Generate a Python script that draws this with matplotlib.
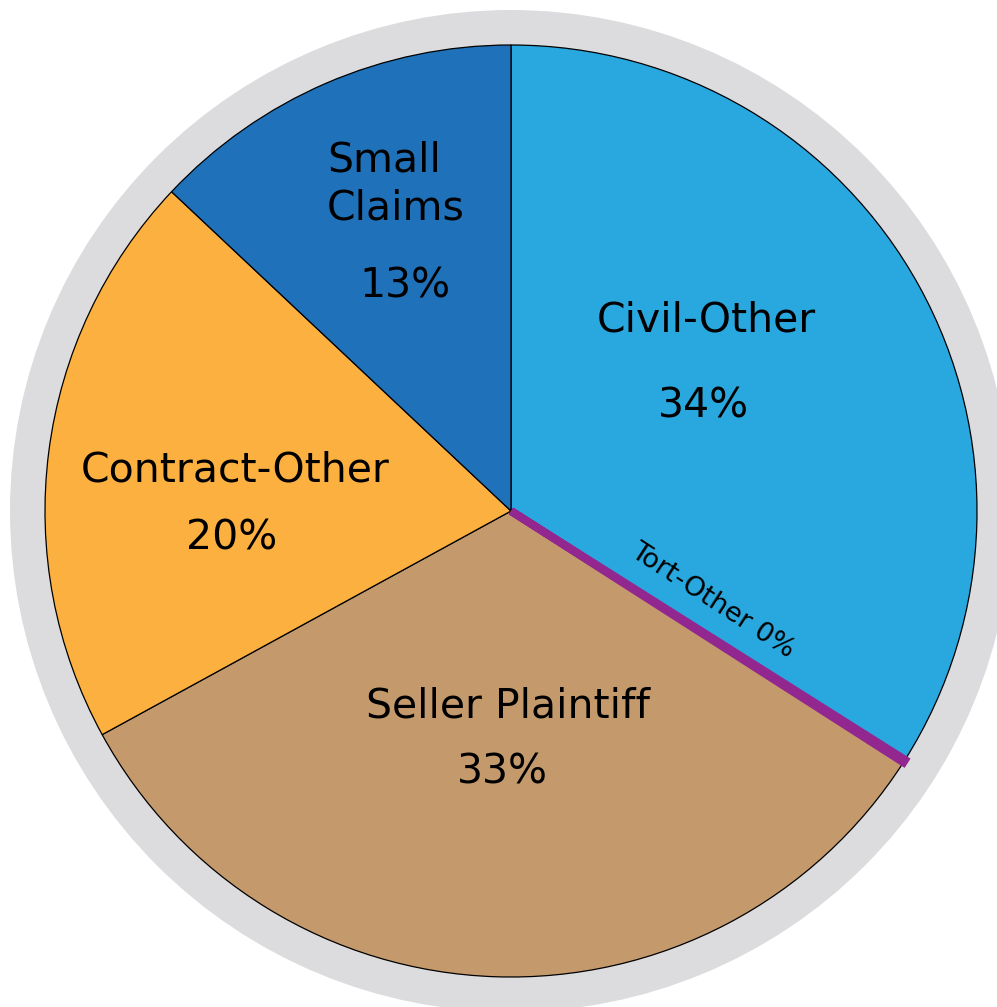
import matplotlib
matplotlib.use("Agg")
import matplotlib.pyplot as plt
from matplotlib.patches import Circle

categories = ["Civil-Other", "Tort-Other", "Seller Plaintiff", "Contract-Other", "Small Claims"]
values = [34, 0.1, 33, 20, 13]
pct_labels = ["34%", "0%", "33%", "20%", "13%"]
colors = ["#29A8E0", "#92278F", "#C49A6C", "#FBB040", "#1F72BA"]

W, H = 997, 1007
fig = plt.figure(figsize=(W / 100, H / 100), dpi=100)
ax = fig.add_axes([0, 0, 1, 1])

cx, cy = 511, H - 511
ax.add_patch(Circle((cx, cy), 501, facecolor="#DCDCDE", edgecolor="none", zorder=0))

wedges, _ = ax.pie(values, colors=colors, startangle=90, counterclock=False,
                   center=(cx, cy), radius=466, frame=True,
                   wedgeprops=dict(edgecolor="black", linewidth=0.9))
wedges[1].set_edgecolor(colors[1])
wedges[1].set_linewidth(5.8)
wedges[1].set_zorder(5)
ax.set_xlim(0, W)
ax.set_ylim(0, H)
ax.set_aspect("equal")
ax.axis("off")

font = "DejaVu Sans"
fs = 29.5
def T(x, y, s, **kw):
    kw.setdefault("ha", "center")
    ax.text(x, H - y, s, va="center", fontsize=kw.pop("fs", fs), family=font,
            color="black", zorder=10, **kw)

T(706, 320, categories[0])
T(703, 407, pct_labels[0])
T(327, 161, "Small", ha="left")
T(327, 209, "Claims", ha="left")
T(405, 287, pct_labels[4])
T(235, 470, categories[3])
T(232, 538, pct_labels[3])
T(508, 706, categories[2])
T(502, 772, pct_labels[2])
T(713, 601, categories[1] + " " + pct_labels[1], fs=19.5, rotation=-33, rotation_mode="anchor")

fig.savefig("out.png", dpi=100)
